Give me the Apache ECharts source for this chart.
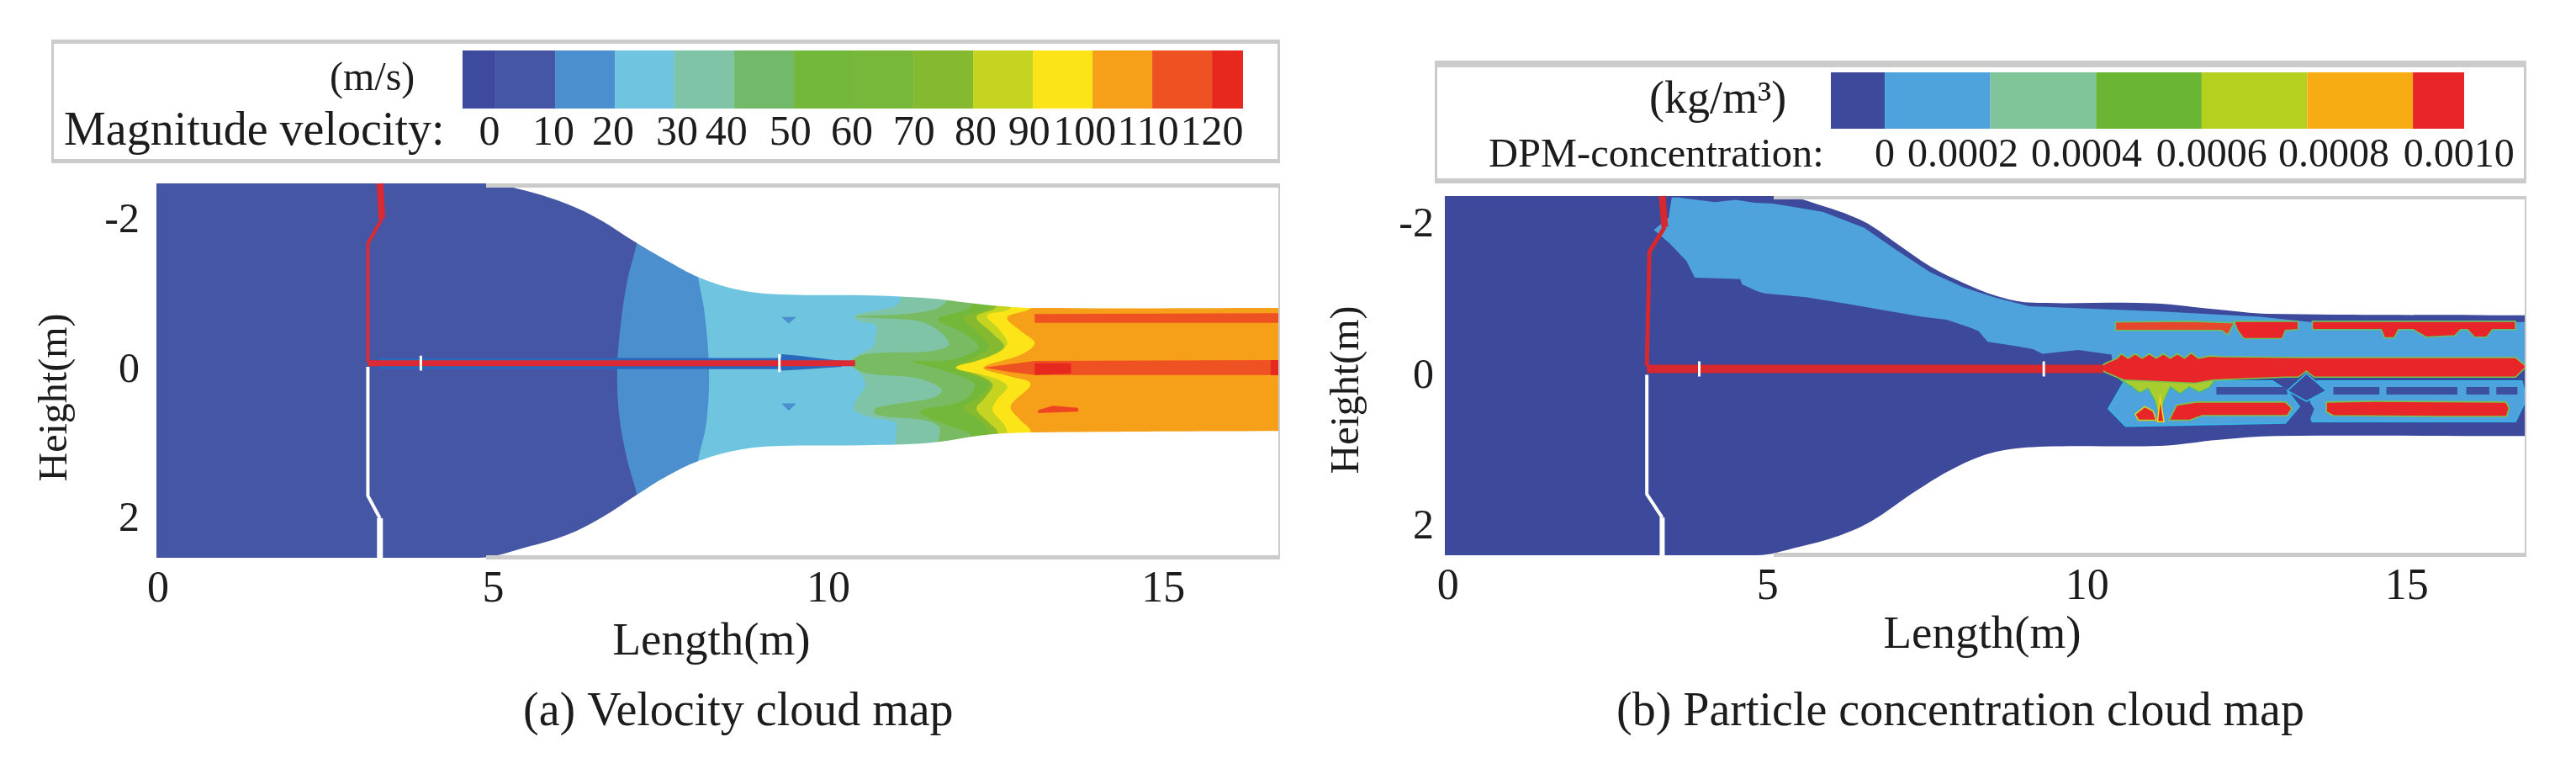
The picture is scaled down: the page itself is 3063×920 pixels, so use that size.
<!DOCTYPE html>
<html><head><meta charset="utf-8">
<style>html,body{margin:0;padding:0;background:#fff}#c{width:3063px;height:920px}</style>
<script src="https://cdn.jsdelivr.net/npm/echarts@6/dist/echarts.min.js"></script>
</head><body><div id="c"></div>
<script>
// ---------- colour-bar values ----------
const velocityEdges=[-5.5,0,10,20,30,40,50,60,70,80,90,100,110,120,125.2];
const velocityTicks=['0','10','20','30','40','50','60','70','80','90','100','110','120'];
const velocitySlots=[-1,9.7,19.7,30.4,38.7,49.4,59.7,70.1,80.4,89.4,98.7,109.3,120];
const velocityColors=['#3d4a9e','#4556a5','#4b8fce','#6fc5e0','#80c4a8','#72b96a','#73b83a','#77b73a','#85ba30','#c5d420','#fbe518','#f6a01a','#ee5122','#e6281f'];
const concEdges=[-0.000102,0,0.0002,0.0004,0.0006,0.0008,0.001,0.001097];
const concTicks=['0','0.0002','0.0004','0.0006','0.0008','0.0010'];
const concSlots=[0,0.000148,0.000382,0.000619,0.00085,0.001087];
const concColors=['#3d4a9c','#4ea3dc','#80c49a','#6bb535','#b5d01e','#f6ac12','#e8262a'];
const lengthTicks=[0,5,10,15];
const heightTicks=[-2,0,2];

// ---------- panel (a) velocity field, data units (length, height) ----------
const aTopWall=[[-0.03,-2.51],[4.88,-2.51],[5.49,-2.41],[6.11,-2.23],[6.6,-2.02],[7.09,-1.74],[7.58,-1.48],[8.07,-1.25],[8.68,-1.08],[9.3,-1.02],[10.53,-1.01],[11.5,-0.97],[12.37,-0.88],[13.1,-0.84],[16.74,-0.84]];
const aBottomWall=[[-0.03,2.51],[4.8,2.51],[5.49,2.37],[6.11,2.2],[6.6,1.98],[7.15,1.66],[7.58,1.42],[8.07,1.21],[8.68,1.06],[9.3,1.01],[10.53,1.0],[11.5,0.97],[12.37,0.86],[13.1,0.83],[16.74,0.81]];
const aFront10=[[7.15,-2.0],[7.15,-1.75],[7.0,-1.2],[6.9,-0.6],[6.85,0],[6.88,0.6],[7.0,1.2],[7.15,1.7],[7.15,2.0]];
const aFront20=[[8.05,-1.6],[8.05,-1.3],[8.15,-0.8],[8.22,0],[8.18,0.7],[8.05,1.25],[8.05,1.6]];
const aFront30=[[11.09,-1.2],[11.09,-0.97],[10.99,-0.86],[10.39,-0.74],[10.44,-0.67],[10.71,-0.61],[10.71,-0.48],[10.66,-0.31],[10.5,-0.24],[10.33,-0.1],[10.5,0.06],[10.55,0.21],[10.39,0.44],[10.39,0.53],[10.66,0.63],[11.01,0.7],[11.01,0.85],[11.04,1.2]];
const aFront40=[[11.75,-1.2],[11.75,-0.91],[11.37,-0.78],[10.41,-0.72],[11.31,-0.67],[11.64,-0.54],[11.8,-0.35],[11.53,-0.26],[10.55,-0.22],[10.33,-0.1],[10.55,0.03],[11.31,0.1],[11.69,0.25],[11.58,0.36],[10.71,0.5],[10.71,0.59],[11.64,0.74],[11.64,1.2]];
const aFront50=[[12.13,-1.2],[12.13,-0.86],[11.64,-0.69],[12.02,-0.5],[12.24,-0.31],[11.8,-0.14],[11.26,-0.12],[11.69,-0.01],[12.18,0.18],[12.02,0.4],[11.37,0.55],[11.8,0.74],[12.13,0.87],[12.13,1.2]];
const aFront70=[[12.4,-1.2],[12.4,-0.86],[12.02,-0.71],[12.24,-0.5],[12.4,-0.31],[12.18,-0.18],[11.9,-0.04],[12.13,0.06],[12.4,0.18],[12.24,0.36],[12.02,0.5],[12.29,0.7],[12.4,0.83],[12.4,1.2]];
const aFront80=[[12.51,-1.2],[12.51,-0.86],[12.21,-0.72],[12.45,-0.5],[12.62,-0.31],[12.18,-0.12],[11.9,-0.04],[12.18,0.04],[12.45,0.18],[12.34,0.36],[12.21,0.51],[12.4,0.7],[12.53,0.83],[12.53,1.2]];
const aFront90=[[12.72,-1.2],[12.72,-0.84],[12.37,-0.74],[12.56,-0.54],[12.67,-0.35],[12.4,-0.18],[11.91,-0.04],[12.4,0.08],[12.67,0.21],[12.51,0.4],[12.45,0.53],[12.62,0.72],[12.67,0.83],[12.67,1.2]];
const aFront100=[[13.05,-1.2],[13.05,-0.86],[12.67,-0.71],[12.89,-0.52],[13.08,-0.37],[12.89,-0.22],[12.32,-0.04],[12.72,0.08],[13.02,0.18],[12.72,0.48],[12.86,0.66],[13.02,0.81],[13.02,1.2]];
const aStripTop=[[13.08,-0.76],[16.74,-0.77],[16.74,-0.64],[13.08,-0.64]];
const aStripCentre=[[12.32,-0.04],[13.08,-0.13],[16.74,-0.14],[16.74,0.06],[13.08,0.06],[12.72,0.02]];
const aSpotCentre=[[13.08,-0.1],[13.62,-0.1],[13.62,0.04],[13.08,0.06]];
const aSpotLower=[[13.13,0.53],[13.35,0.47],[13.73,0.5],[13.73,0.55],[13.13,0.57]];
const aSpotEnd=[[16.6,-0.14],[16.74,-0.14],[16.74,0.06],[16.6,0.06]];
const aDotUpper=[[9.3,-0.72],[9.52,-0.72],[9.41,-0.63]];
const aDotLower=[[9.3,0.44],[9.52,0.44],[9.41,0.54]];
const aHalo=[[3.3,-0.17],[9.3,-0.17],[9.3,-0.22],[9.55,-0.2],[10.2,-0.13],[10.2,-0.05],[9.55,-0.01],[9.3,0],[9.3,-0.02],[3.3,-0.02]];
const aLanceTop=[[3.31,-2.51],[3.34,-2.04]];
const aLanceRed=[[3.34,-2.04],[3.13,-1.7],[3.13,-0.12]];
const aLanceFlat=[[3.13,-0.1],[10.4,-0.1]];
const aWhiteUpper=[[3.13,-0.05],[3.13,1.68],[3.31,1.98]];
const aWhiteLower=[[3.31,1.98],[3.31,2.51]];
const aMark1=[[3.92,-0.2],[3.92,0]];
const aMark2=[[9.27,-0.22],[9.27,0.02]];

// ---------- panel (b) particle field ----------
const bTopWall=[[-0.05,-2.39],[5.22,-2.39],[5.86,-2.26],[6.51,-2.05],[7.02,-1.76],[7.54,-1.46],[8.06,-1.24],[8.57,-1.07],[9.09,-0.98],[11.02,-0.97],[12.06,-0.885],[12.83,-0.83],[16.87,-0.81]];
const bBottomWall=[[-0.05,2.37],[4.83,2.37],[5.48,2.26],[6.12,2.11],[6.64,1.91],[7.28,1.54],[7.93,1.21],[8.57,1.0],[9.35,0.93],[11.15,0.92],[12.06,0.84],[12.96,0.79],[16.87,0.79]];
const bWedge=[[3.6,-2.37],[4.18,-2.31],[4.5,-2.34],[4.8,-2.3],[5.09,-2.29],[5.86,-2.18],[6.51,-1.97],[7.02,-1.67],[7.54,-1.38],[8.06,-1.18],[8.57,-1.04],[9.09,-0.93],[10.25,-0.89],[11.15,-0.86],[12.7,-0.79],[13.48,-0.72],[16.87,-0.72],[16.87,-0.1],[10.4,-0.1],[10.38,-0.29],[9.86,-0.35],[9.3,-0.3],[9.15,-0.36],[8.9,-0.4],[8.44,-0.46],[8.3,-0.6],[8.19,-0.64],[7.8,-0.75],[7.41,-0.79],[6.8,-0.88],[6.25,-0.96],[5.6,-1.05],[4.95,-1.1],[4.83,-1.13],[4.6,-1.22],[4.57,-1.29],[3.86,-1.31],[3.73,-1.53],[3.47,-1.76],[3.22,-1.94],[3.45,-2.1],[3.5,-2.37]];
const bLowerLeft=[[10.33,0.43],[10.58,0.06],[12.9,0.06],[13.13,0.19],[13.32,0.4],[13.1,0.62],[10.6,0.66]];
const bLowerRight=[[13.45,0.45],[13.6,0.06],[16.8,0.06],[16.87,0.3],[16.7,0.6],[13.52,0.6]];
const bDiamond=[[13.13,0.19],[13.43,-0.04],[13.74,0.19],[13.43,0.33]];
const bGapLower=[[13.35,0.43],[13.45,0.3],[13.55,0.43],[13.45,0.65]];
const bDark1=[[12.02,0.14],[13.13,0.14],[13.13,0.24],[12.02,0.24]];
const bDark2=[[13.85,0.14],[14.57,0.14],[14.57,0.24],[13.85,0.24]];
const bDark3=[[14.68,0.14],[15.79,0.14],[15.79,0.24],[14.68,0.24]];
const bDark4=[[15.93,0.14],[16.29,0.14],[16.29,0.24],[15.93,0.24]];
const bDark5=[[16.4,0.14],[16.73,0.14],[16.73,0.24],[16.4,0.24]];
const bUpperRed1=[[10.44,-0.72],[11.6,-0.73],[12.3,-0.71],[12.2,-0.55],[12.1,-0.61],[10.44,-0.61]];
const bUpperRed2=[[12.3,-0.73],[13.3,-0.73],[13.3,-0.62],[13.1,-0.61],[13.05,-0.5],[12.45,-0.5],[12.35,-0.61]];
const bUpperRed3=[[13.52,-0.73],[16.7,-0.73],[16.7,-0.62],[16.34,-0.62],[16.25,-0.52],[16.06,-0.52],[15.95,-0.62],[15.84,-0.62],[15.75,-0.54],[15.3,-0.52],[15.1,-0.62],[14.87,-0.62],[14.8,-0.51],[14.65,-0.51],[14.6,-0.62],[13.52,-0.62]];
const bCentreRed=[[10.17,-0.11],[10.3,-0.18],[10.47,-0.24],[10.53,-0.3],[10.64,-0.24],[10.75,-0.3],[10.86,-0.24],[10.97,-0.3],[11.08,-0.24],[11.19,-0.3],[11.3,-0.24],[11.41,-0.3],[11.52,-0.24],[11.63,-0.31],[11.74,-0.24],[11.91,-0.27],[12.1,-0.26],[13.3,-0.25],[16.7,-0.25],[16.87,-0.13],[16.7,0.01],[13.74,0.01],[13.55,0.01],[13.43,-0.07],[13.3,0.01],[13.1,0.01],[11.97,0.05],[11.69,0.09],[10.58,0.05],[10.3,-0.05]];
const bDrips=[[10.53,0.05],[12.0,0.05],[11.91,0.15],[11.75,0.21],[11.6,0.14],[11.45,0.23],[11.3,0.14],[11.2,0.33],[11.14,0.6],[11.06,0.33],[10.95,0.16],[10.82,0.22],[10.7,0.14]];
const bLowerRedA=[[10.75,0.5],[10.9,0.4],[11.03,0.46],[11.08,0.58],[10.8,0.58]];
const bLowerRedB=[[11.1,0.6],[11.14,0.28],[11.2,0.6]];
const bLowerRedC=[[11.28,0.58],[11.4,0.38],[11.7,0.34],[13.1,0.34],[13.2,0.42],[13.13,0.52],[11.8,0.52],[11.6,0.58]];
const bLowerRedD=[[13.74,0.34],[14.5,0.33],[16.55,0.34],[16.6,0.42],[16.56,0.53],[15.5,0.53],[13.85,0.52],[13.74,0.47]];
const bLanceTop=[[3.35,-2.39],[3.39,-1.98]];
const bLanceRed=[[3.39,-1.98],[3.15,-1.65],[3.11,-0.14]];
const bLanceFlat=[[3.11,-0.1],[10.25,-0.1]];
const bWhiteUpper=[[3.11,-0.02],[3.11,1.56],[3.35,1.87]];
const bWhiteLower=[[3.35,1.87],[3.35,2.37]];
const bMark1=[[3.93,-0.2],[3.93,0]];
const bMark2=[[9.32,-0.2],[9.32,0]];

// ---------- tables built from the arrays ----------
const frontTo=edge=>edge.concat([[18,edge[edge.length-1][1]],[18,edge[0][1]]]);
const maskOver=(wall,far)=>[[-1,wall[0][1]]].concat(wall,[[18,wall[wall.length-1][1]],[18,far],[-1,far]]);
const S=0.35;
const aLayers=[
 {points:[[-0.03,-2.51],[16.74,-2.51],[16.74,2.51],[-0.03,2.51]],color:'#4556a5'},
 {points:frontTo(aFront10),color:'#4b8fce',smooth:S},
 {points:frontTo(aFront20),color:'#6fc5e0',smooth:S},
 {points:aDotUpper,color:'#4b8fce'},{points:aDotLower,color:'#4b8fce'},
 {points:aHalo,color:'#2a68bb'},
 {points:frontTo(aFront30),color:'#80c4a8',smooth:S},
 {points:frontTo(aFront40),color:'#78bb62',smooth:S},
 {points:frontTo(aFront50),color:'#73b83a',smooth:S},
 {points:frontTo(aFront70),color:'#85ba30',smooth:S},
 {points:frontTo(aFront80),color:'#c5d420',smooth:S},
 {points:frontTo(aFront90),color:'#fbe518',smooth:S},
 {points:frontTo(aFront100),color:'#f6a01a',smooth:S},
 {points:aStripTop,color:'#ee5122'},{points:aStripCentre,color:'#ee5122'},
 {points:aSpotCentre,color:'#e6281f'},{points:aSpotLower,color:'#ee4522'},{points:aSpotEnd,color:'#e6281f'},
 {points:maskOver(aTopWall,-4),color:'#fff',smooth:S},
 {points:maskOver(aBottomWall,4),color:'#fff',smooth:S}
];
const bLayers=[
 {points:[[-0.05,-2.39],[16.87,-2.39],[16.87,2.37],[-0.05,2.37]],color:'#3d4a9c'},
 {points:bWedge,color:'#4ea3dc'},
 {points:bLowerLeft,color:'#4ea3dc',stroke:'#35b6e4'},
 {points:bLowerRight,color:'#4ea3dc',stroke:'#35b6e4'},
 {points:bGapLower,color:'#3d4a9c'},
 {points:bDark1,color:'#3d4f9f'},{points:bDark2,color:'#3d4f9f'},{points:bDark3,color:'#3d4f9f'},{points:bDark4,color:'#3d4f9f'},{points:bDark5,color:'#3d4f9f'},
 {points:bDrips,color:'#a9cc2e',stroke:'#45b88a'},
 {points:bDiamond,color:'#3d4a9c',stroke:'#35b6e4'},
 {points:bUpperRed1,color:'#e5462c',stroke:'#69c06a'},
 {points:bUpperRed2,color:'#e8262a',stroke:'#69c06a'},
 {points:bUpperRed3,color:'#e8262a',stroke:'#69c06a'},
 {points:bCentreRed,color:'#e8262a',stroke:'#7fc24a'},
 {points:bLowerRedA,color:'#e8262a',stroke:'#c9d41f'},
 {points:bLowerRedB,color:'#e8262a',stroke:'#f2d71a'},
 {points:bLowerRedC,color:'#e8262a',stroke:'#7fc24a'},
 {points:bLowerRedD,color:'#e8262a',stroke:'#7fc24a'},
 {points:maskOver(bTopWall,-4),color:'#fff',smooth:S},
 {points:maskOver(bBottomWall,4),color:'#fff',smooth:S}
];
const field=(i,layers)=>({type:'custom',xAxisIndex:i,yAxisIndex:i,clip:true,silent:true,z:2,
  data:layers.map(l=>l.points[0]),
  renderItem:(p,api)=>{const l=layers[p.dataIndex];return {type:'polygon',shape:{points:l.points.map(q=>api.coord(q)),smooth:l.smooth||0},
    style:{fill:l.color,stroke:l.stroke||null,lineWidth:l.stroke?1.6:0}};}});
const path=(i,pts,color,w)=>({type:'line',xAxisIndex:i,yAxisIndex:i,data:pts,showSymbol:false,silent:true,z:4,
  lineStyle:{color:color,width:w,join:'round',cap:'butt'}});
const bar=(i,edges,colors)=>({type:'custom',xAxisIndex:i,yAxisIndex:i,silent:true,z:2,
  data:colors.map((c,k)=>[edges[k],edges[k+1]]),encode:{x:[0,1]},
  renderItem:(p,api)=>{const a=api.coord([api.value(0),1]),b=api.coord([api.value(1),0]);
    return {type:'rect',shape:{x:a[0],y:a[1],width:b[0]-a[0],height:b[1]-a[1]},style:{fill:colors[p.dataIndex]}};}});
const serif='Liberation Serif',ink='#1c1c1c';
const tickLookup=(slots,labels)=>v=>{let k=0;slots.forEach((s,j)=>{if(Math.abs(s-v)<Math.abs(slots[k]-v))k=j;});return labels[k];};
const plotX=(i,min,max,gap,pad)=>({type:'value',gridIndex:i,min,max,splitLine:{show:false},axisLine:{show:false},axisTick:{show:false},
  axisLabel:{customValues:lengthTicks,fontFamily:serif,fontSize:52,color:ink,margin:12},
  name:'Length(m)',nameLocation:'middle',nameGap:gap,nameTextStyle:{fontFamily:serif,fontSize:55,color:ink,padding:[0,pad,0,0]}});
const plotY=(i,min,max,gap,pad,m)=>({type:'value',gridIndex:i,inverse:true,min,max,splitLine:{show:false},axisLine:{show:false},axisTick:{show:false},
  axisLabel:{customValues:heightTicks,fontFamily:serif,fontSize:50,color:ink,margin:m},
  name:'Height(m)',nameLocation:'middle',nameRotate:90,nameGap:gap,nameTextStyle:{fontFamily:serif,fontSize:48,color:ink,padding:[0,pad,0,0]}});
const barX=(i,edges,slots,labels,m,fs)=>({type:'value',gridIndex:i,min:edges[0],max:edges[edges.length-1],splitLine:{show:false},axisLine:{show:false},axisTick:{show:false},
  axisLabel:{customValues:slots,formatter:tickLookup(slots,labels),fontFamily:serif,fontSize:fs,color:ink,margin:m}});
const barY=i=>({type:'value',gridIndex:i,min:0,max:1,show:false});
const band=(x,y,w,h)=>({type:'rect',z:10,silent:true,shape:{x,y,width:w,height:h},style:{fill:'#cbcbcb'}});
const txt=(text,left,top,fs)=>({text,left,top,padding:0,textStyle:{fontFamily:serif,fontSize:fs,fontWeight:'normal',color:ink}});

const option={
 animation:false,backgroundColor:'#fff',
 title:[
  txt('(m/s)',392,70,48),
  txt('Magnitude velocity:',76,129,56),
  txt('(kg/m³)',1961,93,54),
  txt('DPM-concentration:',1770,161,48.5),
  txt('(a) Velocity cloud map',622,819,56),
  txt('(b) Particle concentration cloud map',1922,819,56)
 ],
 grid:[
  {left:186,top:218,width:1336,height:445},
  {left:1718,top:233,width:1286,height:427},
  {left:550,top:60,width:928,height:69},
  {left:2177,top:86,width:753,height:67}
 ],
 xAxis:[plotX(0,-0.025,16.74,73,16),plotX(1,-0.05,16.87,68,8),barX(2,velocityEdges,velocitySlots,velocityTicks,5,50),barX(3,concEdges,concSlots,concTicks,8,48)],
 yAxis:[plotY(0,-2.51,2.51,96,64,20),plotY(1,-2.39,2.37,92,34,13),barY(2),barY(3)],
 series:[
  field(0,aLayers),
  path(0,aLanceTop,'#dc2a35',8),path(0,aLanceRed,'#dc2a35',4),path(0,aLanceFlat,'#dc2a35',7),
  path(0,aWhiteUpper,'#ffffff',4),path(0,aWhiteLower,'#ffffff',7),path(0,aMark1,'#ffffff',3),path(0,aMark2,'#ffffff',3),
  field(1,bLayers),
  path(1,bLanceTop,'#d8282f',8),path(1,bLanceRed,'#d8282f',5),path(1,bLanceFlat,'#d8282f',10),
  path(1,bWhiteUpper,'#ffffff',4),path(1,bWhiteLower,'#ffffff',6),path(1,bMark1,'#ffffff',3),path(1,bMark2,'#ffffff',3),
  bar(2,velocityEdges,velocityColors),
  bar(3,concEdges,concColors)
 ],
 graphic:{elements:[
  band(61,47,1461,5),band(61,189,1461,5),band(61,47,3,147),band(1519,47,3,147),
  band(1706,72,1298,8),band(1706,212,1298,6),band(1706,72,3,146),band(3001,72,3,146),
  band(578,218,944,5),band(578,660,944,5),band(1520,218,2,447),
  band(2109,233,895,4),band(2109,657,895,5),band(3002,233,2,429)
 ]}
};
echarts.init(document.getElementById('c'),null,{renderer:'canvas'}).setOption(option);
</script></body></html>
